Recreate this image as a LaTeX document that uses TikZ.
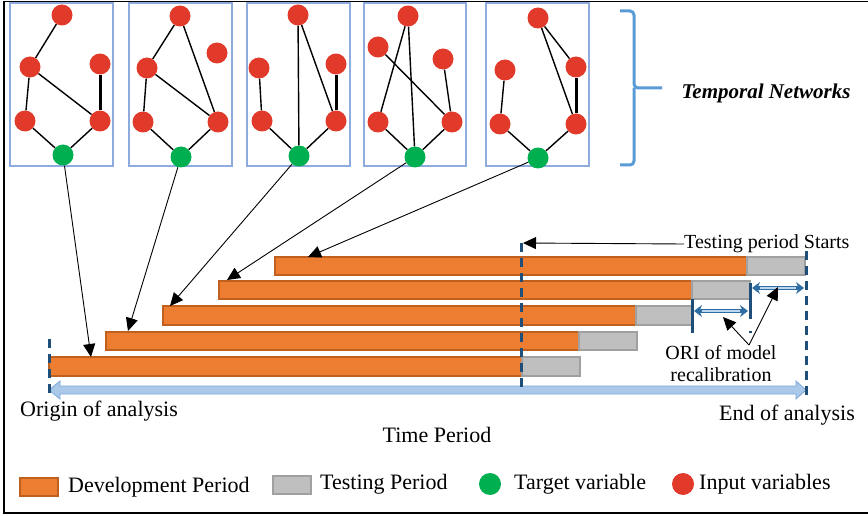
\documentclass[tikz,border=0pt]{standalone}
\usepackage{fontspec}
\setmainfont{Liberation Serif}
\usetikzlibrary{arrows.meta}
\definecolor{redc}{HTML}{E23A2A}
\definecolor{greenc}{HTML}{00B050}
\definecolor{orangec}{HTML}{ED7D31}
\definecolor{orangeb}{HTML}{C0601E}
\definecolor{grayc}{HTML}{BFBFBF}
\definecolor{grayb}{HTML}{A0A0A0}
\definecolor{panelb}{HTML}{8FAADC}
\definecolor{braceb}{HTML}{5B9BD5}
\definecolor{dashb}{HTML}{1F4E79}
\definecolor{tlfill}{HTML}{A9C8EA}
\definecolor{tlline}{HTML}{7BA7D8}
\definecolor{orib}{HTML}{2E6DA4}
\definecolor{orifill}{HTML}{BDD7EE}
\begin{document}
\begin{tikzpicture}[x=1pt,y=-1pt,
  panel/.style={draw=panelb,line width=2pt},
  inp/.style={circle,fill=redc,minimum size=21pt,inner sep=0pt},
  tgt/.style={circle,fill=greenc,minimum size=21pt,inner sep=0pt},
  edge/.style={line width=1.4pt,black},
  thickedge/.style={line width=3pt,black},
  tarrow/.style={line width=0.9pt,-{Triangle[length=13pt,width=12pt]}},
  dev/.style={draw=orangeb,fill=orangec,line width=1.5pt},
  tst/.style={draw=grayb,fill=grayc,line width=1.5pt},
  dline/.style={dashb,line width=3pt,dash pattern=on 9pt off 6pt},
  txt/.style={font=\fontsize{22}{24}\selectfont,inner sep=0pt},
  stxt/.style={font=\fontsize{20}{22}\selectfont,inner sep=0pt},
]
\useasboundingbox (0,0) rectangle (868,516);
\draw[line width=1.6pt] (870,1.5) -- (4,1.5) -- (4,513) -- (870,513);

% panels
\draw[panel] (10,3) rectangle (113,166);
\draw[panel] (129,3) rectangle (232,166);
\draw[panel] (247,3) rectangle (350,166);
\draw[panel] (364,3) rectangle (466,166);
\draw[panel] (486,3) rectangle (589,166);

% panel 1
\node[inp] (a1t) at (62,15) {};
\node[inp] (a1lm) at (30,67) {};
\node[inp] (a1rm) at (100,64) {};
\node[inp] (a1lb) at (25,121) {};
\node[inp] (a1rb) at (100,121) {};
\node[tgt] (a1g) at (63,155) {};
\draw[edge] (a1t) -- (a1lm);
\draw[edge] (a1lm) -- (a1lb);
\draw[edge] (a1lm) -- (a1rb);
\draw[thickedge] (a1rm) -- (a1rb);
\draw[edge] (a1lb) -- (a1g);
\draw[edge] (a1rb) -- (a1g);

% panel 2
\node[inp] (a2t) at (180,16) {};
\node[inp] (a2rm) at (217,53) {};
\node[inp] (a2lm) at (147,68) {};
\node[inp] (a2lb) at (143,122) {};
\node[inp] (a2rb) at (218,122) {};
\node[tgt] (a2g) at (181,157) {};
\draw[edge] (a2t) -- (a2lm);
\draw[edge] (a2t) -- (a2rb);
\draw[edge] (a2lm) -- (a2lb);
\draw[edge] (a2lm) -- (a2rb);
\draw[edge] (a2lb) -- (a2g);
\draw[edge] (a2rb) -- (a2g);

% panel 3
\node[inp] (a3t) at (298,15) {};
\node[inp] (a3lm) at (259,68) {};
\node[inp] (a3rm) at (336,64) {};
\node[inp] (a3lb) at (262,121) {};
\node[inp] (a3rb) at (336,121) {};
\node[tgt] (a3g) at (299,156) {};
\draw[edge] (a3t) -- (a3g);
\draw[edge] (a3t) -- (a3rb);
\draw[edge] (a3lm) -- (a3lb);
\draw[thickedge] (a3rm) -- (a3rb);
\draw[edge] (a3lb) -- (a3g);
\draw[edge] (a3rb) -- (a3g);

% panel 4
\node[inp] (a4t) at (408,16) {};
\node[inp] (a4lm) at (378,47) {};
\node[inp] (a4rm) at (443,59) {};
\node[inp] (a4lb) at (378,122) {};
\node[inp] (a4rb) at (452,122) {};
\node[tgt] (a4g) at (415,157) {};
\draw[edge] (a4t) -- (a4lb);
\draw[edge] (a4t) -- (a4g);
\draw[edge] (a4lm) -- (a4rb);
\draw[edge] (a4rm) -- (a4rb);
\draw[edge] (a4lb) -- (a4g);
\draw[edge] (a4rb) -- (a4g);

% panel 5
\node[inp] (a5t) at (538,18) {};
\node[inp] (a5lm) at (505,70) {};
\node[inp] (a5rm) at (576,67) {};
\node[inp] (a5lb) at (500,124) {};
\node[inp] (a5rb) at (576,124) {};
\node[tgt] (a5g) at (538,158) {};
\draw[edge] (a5t) -- (a5rm);
\draw[edge] (a5t) -- (a5rb);
\draw[thickedge] (a5rm) -- (a5rb);
\draw[edge] (a5lm) -- (a5lb);
\draw[edge] (a5lb) -- (a5g);
\draw[edge] (a5rb) -- (a5g);

% brace
\draw[braceb,line width=3pt,rounded corners=4pt] (620,11) -- (634,11) -- (634,88) -- (662,88);
\draw[braceb,line width=3pt,rounded corners=4pt] (634,88) -- (634,165) -- (620,165);
\node[font=\fontsize{21}{24}\selectfont\bfseries\itshape,inner sep=0pt] (tn) at (766,93) {Temporal Networks};

% bars
\draw[dev] (275,257) rectangle (747,275);
\draw[tst] (747,257) rectangle (805,275);
\draw[dev] (219,281) rectangle (692,299);
\draw[tst] (692,281) rectangle (750,299);
\draw[dev] (163,306) rectangle (636,325);
\draw[tst] (636,306) rectangle (693,325);
\draw[dev] (106,332) rectangle (579,350);
\draw[tst] (579,332) rectangle (637,350);
\draw[dev] (49,357) rectangle (522,376);
\draw[tst] (522,357) rectangle (580,376);

% arrows from targets to bars
\coordinate (e1) at (91,357);
\coordinate (e2) at (128,331);
\coordinate (e3) at (170,306);
\coordinate (e4) at (227,280);
\coordinate (e5) at (308,257);
\draw[tarrow] (a1g) -- (e1);
\draw[tarrow] (a2g) -- (e2);
\draw[tarrow] (a3g) -- (e3);
\draw[tarrow] (a4g) -- (e4);
\draw[tarrow] (a5g) -- (e5);

% timeline
\draw[draw=tlline,fill=tlfill,line width=0.8pt] (49,390) -- (60,381) -- (60,386) -- (796,386) -- (796,381) -- (806,390) -- (796,399) -- (796,394) -- (60,394) -- (60,399) -- cycle;

% dashed lines
\draw[dline] (49,339) -- (49,398);
\draw[dline] (521,243) -- (521,390);
\draw[dline] (806,251) -- (806,398);
\draw[dline,dash pattern=on 34pt off 6pt] (692,299) -- (692,334);
\draw[dline,dash pattern=on 36pt off 12pt on 2pt off 10pt] (750,283) -- (750,334);

% ORI arrows
\draw[orib,line width=4pt,{Stealth[length=8pt,width=12pt]}-{Stealth[length=8pt,width=12pt]}] (694,311) -- (748,311);
\draw[orifill,line width=1.2pt] (702,311) -- (740,311);
\draw[orib,line width=4pt,{Stealth[length=8pt,width=12pt]}-{Stealth[length=8pt,width=12pt]}] (752,288) -- (804,288);
\draw[orifill,line width=1.2pt] (760,288) -- (796,288);

% texts
\node[stxt,anchor=west] (tps) at (684,244) {Testing period Starts};
\coordinate (tpe) at (523,243);
\draw[line width=0.9pt,-{Triangle[length=13pt,width=12pt]}] (tps.west) -- (tpe);

\node[stxt,align=center] (ori) at (721,364) {ORI of model\\recalibration};
\coordinate (op) at (749,345);
\coordinate (oa1) at (723,317);
\coordinate (oa2) at (778,287);
\draw[tarrow] (op) -- (oa1);
\draw[tarrow] (op) -- (oa2);

\node[txt,anchor=west] (orig) at (20,411) {Origin of analysis};
\node[txt,anchor=east] (endA) at (855,415) {End of analysis};
\node[txt] (tp) at (437,435) {Time Period};

% legend
\draw[dev] (20,478) rectangle (58,496);
\node[txt,anchor=west] (l1) at (68,487) {Development Period};
\draw[tst] (273,476) rectangle (311,494);
\node[txt,anchor=west] (l2) at (320,484) {Testing Period};
\node[tgt,minimum size=22pt] (l3c) at (490,484) {};
\node[txt,anchor=west] (l3) at (514,484) {Target variable};
\node[inp,minimum size=22pt] (l4c) at (683,484) {};
\node[txt,anchor=west] (l4) at (699,484) {Input variables};
\end{tikzpicture}
\end{document}
